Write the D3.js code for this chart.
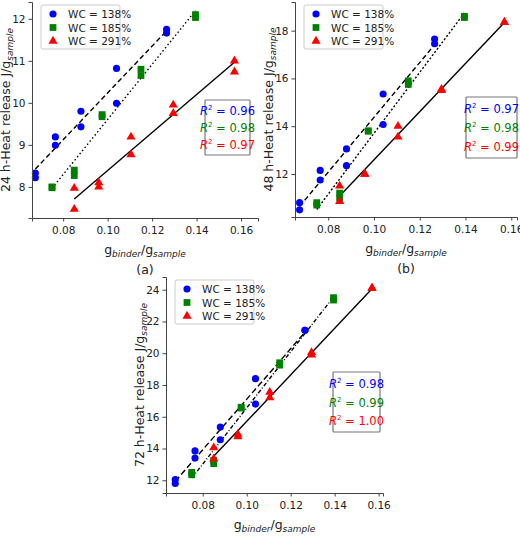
<!DOCTYPE html>
<html><head><meta charset="utf-8">
<script src="https://cdn.jsdelivr.net/npm/d3@7"></script>
<style>
body{margin:0;background:#fff;font-family:"DejaVu Sans",sans-serif}
text{font-family:"DejaVu Sans",sans-serif}
</style></head><body>
<svg id="c" width="520" height="544"></svg>
<script>
// x positions (binder/sample ratio) per series
const xBlue = [0.0675, 0.0675, 0.0765, 0.0765, 0.088, 0.088, 0.104, 0.104, 0.1265, 0.1265];
const xGreen = [0.075, 0.075, 0.085, 0.085, 0.0975, 0.0975, 0.115, 0.115, 0.1395, 0.1395];
const xRed = [0.085, 0.085, 0.096, 0.096, 0.1105, 0.1105, 0.1295, 0.1295, 0.157, 0.157];

const h24Blue = [8.33, 8.22, 9.19, 8.99, 9.8, 9.43, 10.82, 9.99, 11.75, 11.66];
const h24Green = [8.0, 7.98, 8.4, 8.27, 9.72, 9.67, 10.8, 10.65, 12.1, 12.03];
const h24Red = [7.97, 7.47, 8.1, 8.0, 9.19, 8.77, 9.95, 9.75, 11.0, 10.74];

const h48Blue = [10.8, 10.5, 12.15, 11.75, 13.05, 12.35, 15.35, 14.07, 17.65, 17.45];
const h48Green = [10.8, 10.7, 11.2, 11.0, 13.8, 13.8, 15.9, 15.75, 18.6, 18.55];
const h48Red = [11.5, 10.85, 12.0, 12.0, 14.0, 13.55, 15.55, 15.5, 18.35, 18.35];

const h72Blue = [12.05, 11.8, 13.85, 13.4, 15.35, 14.55, 18.4, 16.8, 21.45, 21.45];
const h72Green = [12.5, 12.35, 13.25, 13.05, 16.6, 16.55, 19.4, 19.25, 23.5, 23.35];
const h72Red = [14.05, 13.35, 14.9, 14.75, 17.55, 17.2, 20.05, 19.9, 24.1, 24.1];

const seriesNames = ["WC = 138%", "WC = 185%", "WC = 291%"];
const r2_24 = ["0.96", "0.98", "0.97"];
const r2_48 = ["0.97", "0.98", "0.99"];
const r2_72 = ["0.98", "0.99", "1.00"];
const xTicks = [0.08, 0.10, 0.12, 0.14, 0.16];

const colors = ["#0000ff", "#008000", "#ff0000"];
const svg = d3.select("#c");

const panels = [
  {ys: [h24Blue, h24Green, h24Red], r2: r2_24, lab: "24", tag: "(a)",
   box: [32, 2, 258, 218], xd: [0.066, 0.1676], yd: [7.26, 12.4], yt: [8, 9, 10, 11, 12],
   dash: ["5,3", "1.5,2.5", null], rb: [205, 100, 45, 55]},
  {ys: [h48Blue, h48Green, h48Red], r2: r2_48, lab: "48", tag: "(b)",
   box: [295, 2, 517, 217], xd: [0.0655, 0.1625], yd: [10.2, 19.2], yt: [12, 14, 16, 18],
   dash: ["5,3", "2,2", null], rb: [466, 97, 51, 61]},
  {ys: [h72Blue, h72Green, h72Red], r2: r2_72, lab: "72", tag: null,
   box: [166, 277, 383, 493], xd: [0.0633, 0.162], yd: [11.2, 24.8], yt: [12, 14, 16, 18, 20, 22, 24],
   dash: ["6,3", "4,2,1,2", null], rb: [333, 372, 47, 60]}
];
const xs = [xBlue, xGreen, xRed];
const syms = [d3.symbolCircle, d3.symbolSquare, d3.symbolTriangle];
const sizes = [40, 46, 36];

function fit(x, y) {
  const mx = d3.mean(x), my = d3.mean(y);
  const b = d3.sum(x, (v, i) => (v - mx) * (y[i] - my)) / d3.sum(x, v => (v - mx) ** 2);
  return [b, my - b * mx];
}

panels.forEach(p => {
  const [l, t, r, b] = p.box;
  const x = d3.scaleLinear().domain(p.xd).range([l, r]);
  const y = d3.scaleLinear().domain(p.yd).range([b, t]);
  const g = svg.append("g");

  // fit lines
  p.ys.forEach((ys, k) => {
    const [m, c] = fit(xs[k], ys);
    const x0 = d3.min(xs[k]), x1 = d3.max(xs[k]);
    g.append("line").attr("x1", x(x0)).attr("y1", y(m * x0 + c))
      .attr("x2", x(x1)).attr("y2", y(m * x1 + c))
      .attr("stroke", "#000").attr("stroke-width", 1.4)
      .attr("stroke-dasharray", p.dash[k]);
  });

  // markers
  p.ys.forEach((ys, k) => {
    g.selectAll(null).data(ys).join("path")
      .attr("transform", (d, i) => `translate(${x(xs[k][i])},${y(d)})`)
      .attr("d", d3.symbol(syms[k], sizes[k])).attr("fill", colors[k]);
  });

  // axes
  const ax = g.append("g").attr("transform", `translate(0,${b})`)
    .call(d3.axisBottom(x).tickValues(xTicks).tickFormat(d3.format(".2f")).tickSize(3.5));
  const ay = g.append("g").attr("transform", `translate(${l},0)`)
    .call(d3.axisLeft(y).tickValues(p.yt).tickFormat(d3.format("d")).tickSize(3.5));
  [ax, ay].forEach(a => {
    a.select(".domain").attr("stroke", "#444");
    a.selectAll("text").attr("font-size", 10.5).attr("fill", "#222");
    a.selectAll("line").attr("stroke", "#444");
  });
  ax.selectAll("text").attr("dy", "0.9em");

  // labels
  const xl = g.append("text").attr("x", (l + r) / 2).attr("y", b + 36)
    .attr("text-anchor", "middle").attr("font-size", 12.5).attr("fill", "#222");
  xl.append("tspan").text("g");
  xl.append("tspan").text("binder").attr("font-size", 9).attr("font-style", "italic").attr("dy", 3);
  xl.append("tspan").text("/g").attr("dy", -3);
  xl.append("tspan").text("sample").attr("font-size", 9).attr("font-style", "italic").attr("dy", 3);

  const yl = g.append("text").attr("transform", `translate(${l - 22},${(t + b) / 2}) rotate(-90)`)
    .attr("text-anchor", "middle").attr("font-size", 12.5).attr("fill", "#222");
  yl.append("tspan").text(p.lab + " h-Heat release J/g");
  yl.append("tspan").text("sample").attr("font-size", 9).attr("font-style", "italic").attr("dy", 3);

  if (p.tag) g.append("text").attr("x", (l + r) / 2).attr("y", b + 56)
    .attr("text-anchor", "middle").attr("font-size", 12.5).attr("fill", "#222").text(p.tag);

  // legend
  const lg = g.append("g").attr("transform", `translate(${l + 9},${t + 3})`);
  lg.append("rect").attr("width", 79).attr("height", 44).attr("rx", 2)
    .attr("fill", "#fff").attr("fill-opacity", 0.85).attr("stroke", "#ccc");
  seriesNames.forEach((n, k) => {
    lg.append("path").attr("transform", `translate(12,${9 + k * 13.5})`)
      .attr("d", d3.symbol(syms[k], sizes[k])).attr("fill", colors[k]);
    lg.append("text").attr("x", 27).attr("y", 13 + k * 13.5).attr("font-size", 10.5)
      .attr("fill", "#222").text(n);
  });

  // R2 box
  const [bx, by, bw, bh] = p.rb;
  const rg = g.append("g").attr("transform", `translate(${bx},${by})`);
  rg.append("rect").attr("width", bw).attr("height", bh).attr("fill", "#fff")
    .attr("stroke", "#777").attr("stroke-width", 1.2).attr("rx", 1);
  p.r2.forEach((v, k) => {
    const tx = rg.append("text").attr("x", bw / 2).attr("y", bh * (0.27 + k * 0.31))
      .attr("text-anchor", "middle").attr("font-size", 11.5).attr("fill", colors[k]);
    tx.append("tspan").text("R").attr("font-style", "italic");
    tx.append("tspan").text("2").attr("font-size", 7).attr("dy", -5);
    tx.append("tspan").text(" = " + v).attr("dy", 5);
  });
});
</script>
</body></html>
